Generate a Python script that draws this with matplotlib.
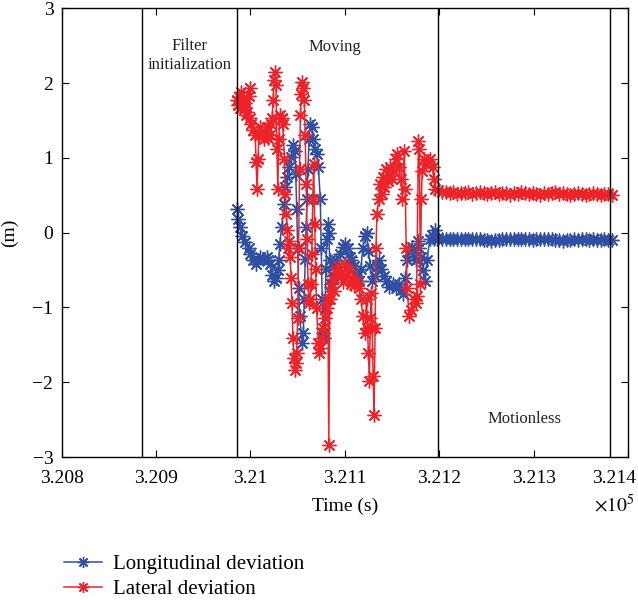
import numpy as np
import matplotlib
matplotlib.use("Agg")
import matplotlib.pyplot as plt
from matplotlib.ticker import FixedLocator, FixedFormatter
from matplotlib.transforms import ScaledTranslation

plt.rcParams['font.family'] = ['Liberation Serif', 'DejaVu Serif']
plt.rcParams['mathtext.fontset'] = 'stix'

# phase boundaries (s)
t_start = 320986
phase_lines = [320885, 320986, 321199, 321381]

# moving phase, longitudinal deviation: seconds after t_start, metres
lon_dt = [0, 1, 3, 5, 8, 12, 14, 17, 20, 22, 24, 27, 31, 33, 35, 37, 39, 41, 43, 44,
          45, 47, 50, 51, 53, 55, 57, 59, 61, 62, 63, 64, 65, 66, 69, 70, 71, 72, 73, 74,
          75, 76, 77, 79, 80, 82, 84, 86, 88, 89, 90, 91, 92, 93, 94, 95, 96, 97, 98, 99,
          101, 103, 105, 109, 112, 114, 117, 119, 121, 124, 127, 129, 131, 133, 135, 137, 139, 141, 143, 146,
          148, 150, 152, 155, 158, 161, 165, 168, 171, 174, 176, 178, 180, 182, 185, 187, 189, 191, 193, 195,
          197, 199, 201, 204, 206, 208, 210, 212]
lon_val = [0.32, 0.19, 0.08, -0.05, -0.13, -0.21, -0.28, -0.37, -0.42, -0.37, -0.32, -0.35, -0.32, -0.37, -0.42, -0.56, -0.65, -0.61, -0.50, -0.37,
           -0.15, 0.08, 0.38, 0.61, 0.74, 0.88, 1.01, 1.17, 1.09, 0.78, 0.32, -0.21, -0.74, -1.12, -1.47, -1.34, -0.88, -0.35, 0.08, 0.45,
           0.85, 1.25, 1.45, 1.41, 1.25, 1.12, 1.05, 0.88, 0.45, -0.21, -0.88, -1.34, -1.41, -1.01, -0.48, -0.08, 0.12, -0.01, -0.37, -0.68,
           -0.58, -0.45, -0.37, -0.28, -0.19, -0.15, -0.21, -0.32, -0.37, -0.45, -0.58, -0.64, -0.48, -0.21, -0.05, -0.01, -0.24, -0.45, -0.64, -0.58,
           -0.45, -0.37, -0.48, -0.58, -0.64, -0.72, -0.69, -0.74, -0.69, -0.77, -0.82, -0.61, -0.37, -0.24, -0.19, -0.32, -0.37, -0.11, -0.21, -0.32,
           -0.50, -0.64, -0.37, -0.08, -0.03, -0.08, 0.03, -0.08]

# moving phase, lateral deviation
lat_dt = [0, 1, 2, 3, 4, 5, 6, 7, 8, 9, 10, 12, 13, 14, 15, 17, 19, 20, 21, 22,
          23, 24, 26, 28, 29, 31, 33, 35, 36, 37, 38, 39, 40, 41, 42, 43, 44, 45, 47, 48,
          50, 51, 52, 53, 54, 55, 56, 57, 58, 59, 60, 61, 62, 63, 64, 65, 66, 67, 68, 69,
          70, 71, 72, 73, 74, 75, 76, 77, 78, 79, 80, 81, 82, 83, 84, 86, 87, 88, 90, 91,
          93, 95, 96, 97, 98, 99, 101, 103, 105, 107, 110, 112, 114, 116, 118, 120, 122, 124, 127, 129,
          131, 133, 135, 137, 138, 139, 140, 141, 142, 143, 144, 145, 146, 147, 148, 150, 151, 153, 154, 156,
          158, 160, 162, 164, 166, 168, 169, 171, 173, 175, 177, 178, 179, 180, 182, 184, 187, 189, 190, 192,
          193, 194, 195, 196, 198, 200, 202, 204, 207, 208, 210]
lat_val = [1.78, 1.71, 1.81, 1.67, 1.88, 1.78, 1.73, 1.65, 1.74, 1.58, 1.62, 1.83, 1.94, 1.54, 1.45, 1.38, 1.31, 0.94, 0.58, 0.98,
           1.31, 1.41, 1.31, 1.25, 1.35, 1.41, 1.27, 1.31, 1.45, 1.54, 1.78, 2.04, 2.15, 1.97, 1.12, 0.58, 1.25, 1.58, 1.54, 1.45,
           0.98, 0.52, 0.25, 0.03, -0.21, -0.11, -0.32, -0.61, -0.94, -1.41, -1.67, -1.83, -1.74, -1.61, -1.14, -0.21, 0.85, 1.58, 1.85, 2.02,
           1.94, 1.78, 1.31, 0.65, -0.08, -0.68, -0.94, -0.88, -0.68, -0.28, 0.45, 0.92, 0.12, -0.48, -1.01, -1.47, -1.61, -1.54, -1.41, -1.27,
           -1.14, -1.01, -0.88, -2.84, -0.88, -0.72, -0.62, -0.78, -0.52, -0.45, -0.55, -0.66, -0.42, -0.58, -0.50, -0.68, -0.60, -0.70, -0.64, -0.74,
           -0.88, -1.12, -1.34, -0.88, -1.27, -1.61, -1.98, -1.14, -0.81, -1.27, -1.91, -2.44, -1.27, -0.21, 0.25, 0.45, 0.65, 0.52, 0.74, 0.61,
           0.85, 0.69, 0.88, 0.72, 0.82, 0.98, 1.05, 0.88, 0.72, 0.45, 1.09, 0.58, -0.21, -0.74, -1.12, -1.04, -0.88, -0.94, -0.85, 1.22,
           1.12, -0.68, 0.45, 0.82, 0.98, 0.92, 0.96, 0.98, 0.88, 0.72, 0.58]

# motionless phase, one sample every 4 s from 321199 s
still_start = 321199
still_step = 4
lon_still = [-0.07, -0.08, -0.08, -0.09, -0.08, -0.09, -0.08, -0.08, -0.09, -0.08, -0.08, -0.09, -0.10, -0.10, -0.11, -0.10,
             -0.10, -0.09, -0.09, -0.08, -0.09, -0.09, -0.08, -0.09, -0.09, -0.10, -0.09, -0.09, -0.08, -0.09, -0.09, -0.10,
             -0.10, -0.11, -0.10, -0.10, -0.09, -0.10, -0.09, -0.09, -0.10, -0.09, -0.10, -0.10, -0.09, -0.10, -0.10]
lat_still = [0.57, 0.55, 0.54, 0.53, 0.54, 0.52, 0.53, 0.53, 0.54, 0.52, 0.53, 0.55, 0.53, 0.52, 0.53, 0.54,
             0.52, 0.53, 0.53, 0.51, 0.53, 0.52, 0.54, 0.53, 0.52, 0.53, 0.52, 0.51, 0.53, 0.52, 0.53, 0.54,
             0.52, 0.53, 0.52, 0.51, 0.52, 0.53, 0.52, 0.51, 0.52, 0.53, 0.52, 0.51, 0.52, 0.52, 0.51]

x_ticks = [320800, 320900, 321000, 321100, 321200, 321300, 321400]
x_ticklabels = ['3.208', '3.209', '3.21', '3.211', '3.212', '3.213', '3.214']
y_ticks = [-3, -2, -1, 0, 1, 2, 3]

lon_t = np.concatenate([t_start + np.array(lon_dt), still_start + still_step * np.arange(len(lon_still))])
lon_y = np.concatenate([lon_val, lon_still])
lat_t = np.concatenate([t_start + np.array(lat_dt), still_start + still_step * np.arange(len(lat_still))])
lat_y = np.concatenate([lat_val, lat_still])

blue = '#2e4fa3'
red = '#ee2228'
star = (8, 2, 0)

fig = plt.figure(figsize=(6.38, 6.0), dpi=100)
ax = fig.add_axes([0.0967, 0.2383, 0.8876, 0.7477])

ax.plot(lon_t, lon_y, color=blue, lw=1.1, marker=star, ms=10, mew=1.0,
        label='Longitudinal deviation')
ax.plot(lat_t, lat_y, color=red, lw=1.1, marker=star, ms=10, mew=1.0,
        label='Lateral deviation')

for xv in phase_lines:
    ax.axvline(xv, color='black', lw=1.0)

ax.text(320935, 2.37, 'Filter\ninitialization', ha='center', va='center', fontsize=12,
        linespacing=1.2, color='#222222')
ax.text(321089, 2.48, 'Moving', ha='center', va='center', fontsize=12, color='#222222')
ax.text(321290, -2.49, 'Motionless', ha='center', va='center', fontsize=12, color='#222222')

ax.set_xlim(320800, 321400)
ax.set_ylim(-3, 3)
ax.xaxis.set_major_locator(FixedLocator(x_ticks))
ax.xaxis.set_major_formatter(FixedFormatter(x_ticklabels))
ax.set_yticks(y_ticks)
ax.set_yticklabels(['\u22123', '\u22122', '\u22121', '0', '1', '2', '3'])
ax.tick_params(direction='in', top=True, right=True, labelsize=14, length=5, width=0.8)
ax.tick_params(axis='x', pad=9)
ax.tick_params(axis='y', pad=6)
for s in ax.spines.values():
    s.set_linewidth(1.0)

# last x label sits left of its tick so it stays inside the figure
last = ax.get_xticklabels()[-1]
last.set_transform(last.get_transform() + ScaledTranslation(-0.14, 0, fig.dpi_scale_trans))

ax.set_xlabel('Time (s)', fontsize=14, labelpad=8)
ax.set_ylabel('(m)', fontsize=14, labelpad=10)
ax.text(1.012, -0.107, r'$\times10^5$', transform=ax.transAxes, ha='right', va='center',
        fontsize=14)

fig.legend(loc='lower left', bbox_to_anchor=(0.088, -0.012), frameon=False, fontsize=15,
           handlelength=1.8, handletextpad=0.55, labelspacing=0.25, borderaxespad=0.0,
           markerscale=0.8)

fig.savefig('out.png', dpi=100)
